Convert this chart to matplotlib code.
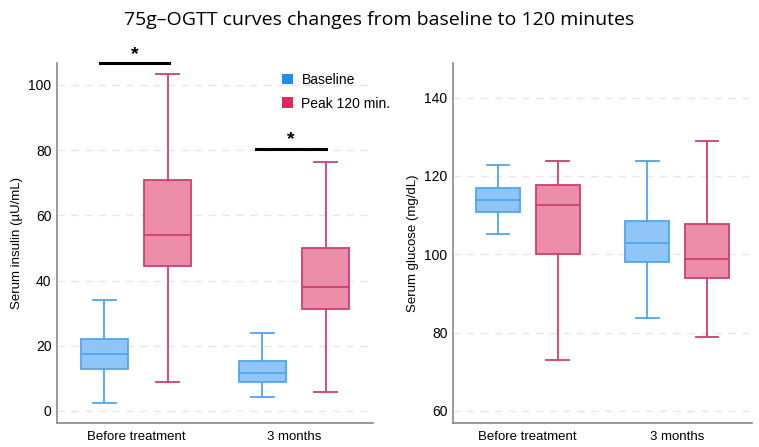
import matplotlib.pyplot as plt
from matplotlib.patches import Patch

plt.rcParams['font.family'] = ['Liberation Sans', 'DejaVu Sans']

groups = ['Before treatment', '3 months']

# five-number summaries: whislo, q1, median, q3, whishi
insulin_base = [[2.4, 12.9, 17.5, 22.0, 34.0], [4.2, 8.8, 11.6, 15.2, 23.8]]
insulin_peak = [[8.8, 44.5, 53.9, 70.7, 103.3], [5.7, 31.2, 38.1, 49.9, 76.5]]
glucose_base = [[105.1, 110.9, 113.9, 116.8, 122.9], [83.6, 98.1, 102.9, 108.6, 123.9]]
glucose_peak = [[72.9, 100.1, 112.5, 117.7, 123.9], [78.9, 93.9, 98.9, 107.7, 129.0]]

insulin_ticks = [0, 20, 40, 60, 80, 100]
glucose_ticks = [60, 80, 100, 120, 140]

blue_edge, blue_face = '#4ea6ef', '#90c6f7'
pink_edge, pink_face = '#cf3f6f', '#ec8ea9'


def stats(rows):
    return [dict(whislo=r[0], q1=r[1], med=r[2], q3=r[3], whishi=r[4], fliers=[]) for r in rows]


def draw(ax, base, peak, ticks, ylim, ylabel):
    for data, off, ec, fc in [(base, -0.2, blue_edge, blue_face), (peak, 0.2, pink_edge, pink_face)]:
        ax.bxp(stats(data), positions=[i + off for i in range(len(groups))], widths=0.295,
               patch_artist=True, showfliers=False, capwidths=0.15,
               boxprops=dict(facecolor=fc, edgecolor=ec, linewidth=1.3),
               medianprops=dict(color=ec, linewidth=1.3),
               whiskerprops=dict(color=ec, linewidth=1.3),
               capprops=dict(color=ec, linewidth=1.3))
    ax.set_xlim(-0.5, 1.5)
    ax.set_ylim(*ylim)
    ax.set_xticks(range(len(groups)))
    ax.set_xticklabels(groups, fontsize=9.5)
    ax.set_yticks(ticks)
    ax.tick_params(axis='y', labelsize=10, length=0, pad=4)
    ax.tick_params(axis='x', length=0, pad=6)
    ax.set_ylabel(ylabel, fontsize=9.5)
    ax.yaxis.grid(True, linestyle=(0, (6, 5)), color='#e6e6e6', linewidth=0.9)
    ax.set_axisbelow(True)
    for s in ['top', 'right']:
        ax.spines[s].set_visible(False)
    for s in ['left', 'bottom']:
        ax.spines[s].set_color('#8a8a8a')
        ax.spines[s].set_linewidth(1.2)


fig = plt.figure(figsize=(7.59, 4.47), dpi=100)
ax1 = fig.add_axes([0.0751, 0.0537, 0.4163, 0.805])
ax2 = fig.add_axes([0.5968, 0.0537, 0.394, 0.805])

draw(ax1, insulin_base, insulin_peak, insulin_ticks, (-3.7, 106.7), 'Serum insulin (µU/mL)')
draw(ax2, glucose_base, glucose_peak, glucose_ticks, (56.9, 148.8), 'Serum glucose (mg/dL)')

# significance markers
ax1.plot([-0.23, 0.21], [106.6, 106.6], color='black', linewidth=2.2, clip_on=False)
ax1.text(-0.01, 106.8, '*', ha='center', va='bottom', fontsize=14, fontweight='bold')
ax1.plot([0.76, 1.2], [80.4, 80.4], color='black', linewidth=2.2, clip_on=False)
ax1.text(0.98, 80.6, '*', ha='center', va='bottom', fontsize=14, fontweight='bold')

handles = [Patch(facecolor='#1f8ff5', edgecolor='none', label='Baseline'),
           Patch(facecolor='#e0285f', edgecolor='none', label='Peak 120 min.')]
fig.legend(handles=handles, loc='upper left', bbox_to_anchor=(0.355, 0.865), frameon=False,
           fontsize=10, handlelength=0.8, handleheight=0.8, handletextpad=0.6, labelspacing=0.7)

fig.text(0.5, 0.955, '75g\u2013OGTT curves changes from baseline to 120 minutes',
         ha='center', va='center', fontsize=14, family=['Open Sans', 'DejaVu Sans'])

fig.savefig('out.png', dpi=100)
